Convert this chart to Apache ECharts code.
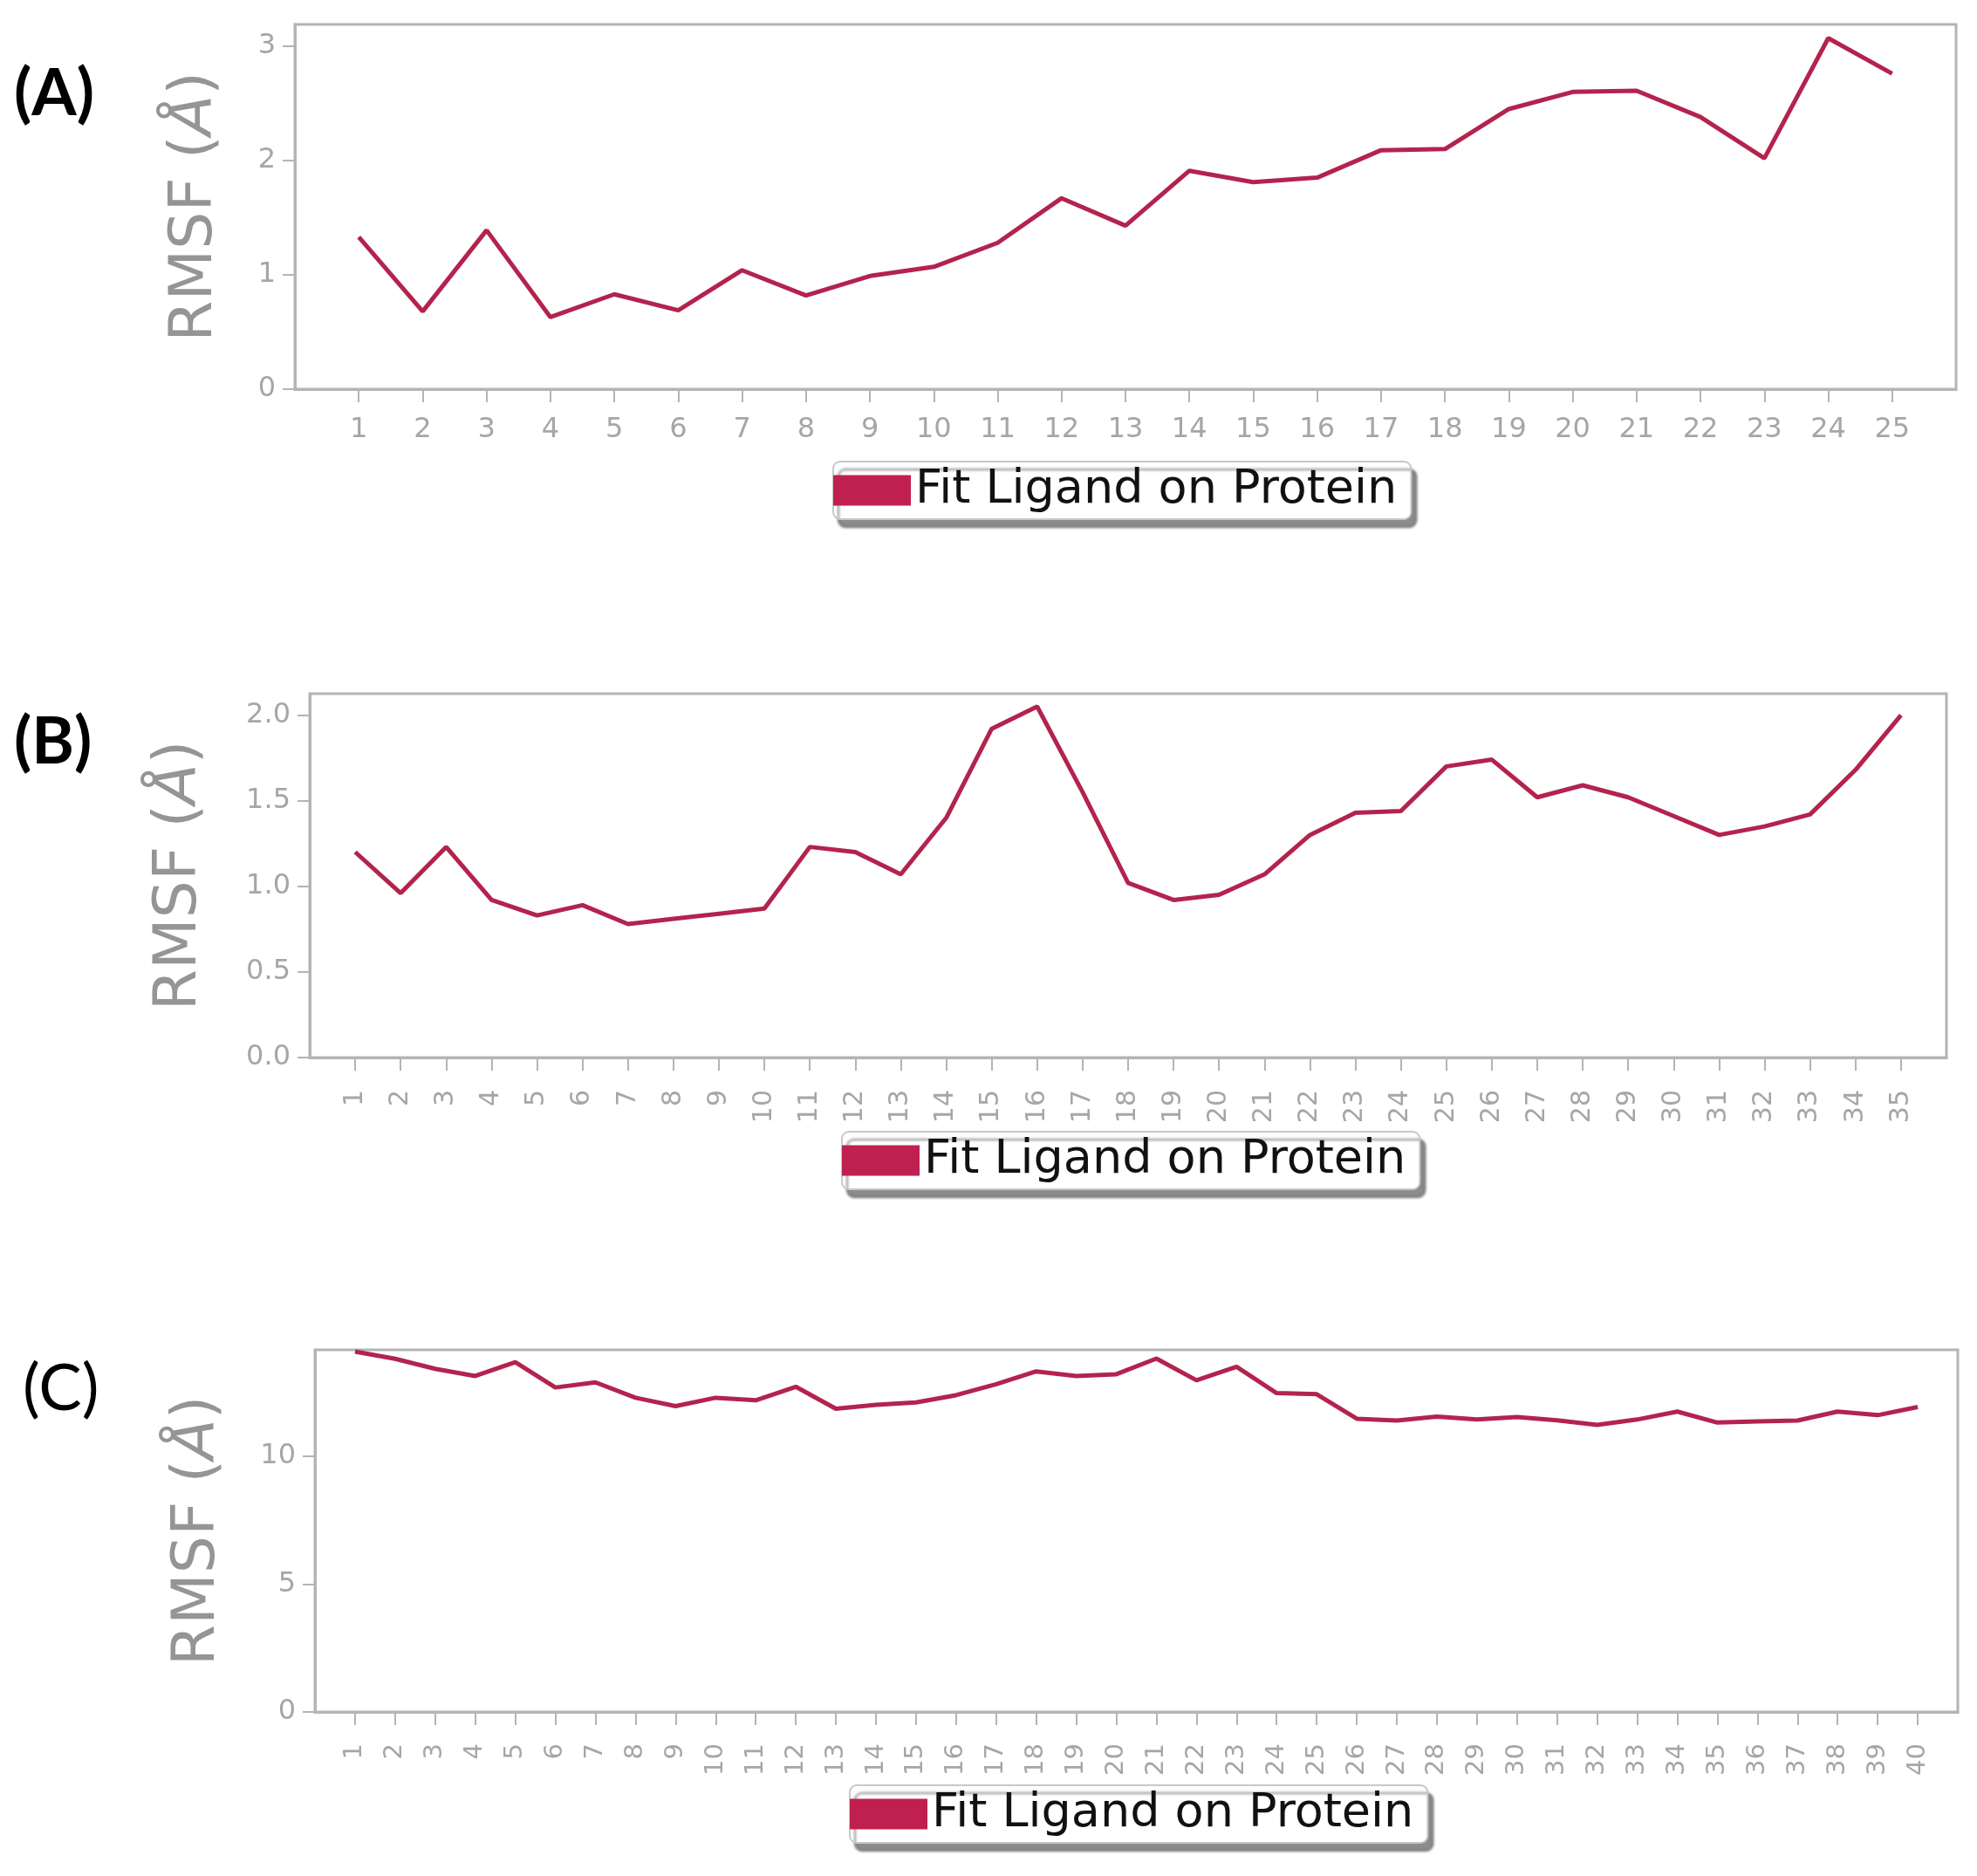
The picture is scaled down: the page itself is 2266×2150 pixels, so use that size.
<!DOCTYPE html>
<html><head><meta charset="utf-8">
<script src="https://cdn.jsdelivr.net/npm/echarts@6/dist/echarts.min.js"></script>
<style>html,body{margin:0;padding:0;background:#fff}#c{width:2266px;height:2150px}</style>
</head><body><div id="c"></div>
<script>
const seriesName = 'Fit Ligand on Protein';
const panelLabels = ['(A)', '(B)', '(C)'];

const residuesA = [1,2,3,4,5,6,7,8,9,10,11,12,13,14,15,16,17,18,19,20,21,22,23,24,25];
const rmsfA = [1.33,0.68,1.39,0.63,0.83,0.69,1.04,0.82,0.99,1.07,1.28,1.67,1.43,1.91,1.81,1.85,2.09,2.10,2.45,2.60,2.61,2.38,2.02,3.07,2.76];
const yTicksA = [0,1,2,3];

const residuesB = [1,2,3,4,5,6,7,8,9,10,11,12,13,14,15,16,17,18,19,20,21,22,23,24,25,26,27,28,29,30,31,32,33,34,35];
const rmsfB = [1.20,0.96,1.23,0.92,0.83,0.89,0.78,0.81,0.84,0.87,1.23,1.20,1.07,1.40,1.92,2.05,1.55,1.02,0.92,0.95,1.07,1.30,1.43,1.44,1.70,1.74,1.52,1.59,1.52,1.41,1.30,1.35,1.42,1.68,2.00];
const yTicksB = [0,0.5,1,1.5,2];

const residuesC = [1,2,3,4,5,6,7,8,9,10,11,12,13,14,15,16,17,18,19,20,21,22,23,24,25,26,27,28,29,30,31,32,33,34,35,36,37,38,39,40];
const rmsfC = [14.07,13.79,13.40,13.12,13.66,12.67,12.87,12.27,11.94,12.27,12.17,12.70,11.84,11.99,12.09,12.37,12.80,13.30,13.12,13.19,13.80,12.95,13.48,12.45,12.41,11.45,11.38,11.53,11.42,11.52,11.39,11.21,11.42,11.73,11.30,11.35,11.38,11.73,11.59,11.91];
const yTicksC = [0,5,10];

const spine = '#b4b4b4';
const tickColor = '#a6a6a6';
const labelColor = '#959595';
const lineColor = '#b3234e';
const patchColor = '#c0204f';
const tickFont = '"DejaVu Sans",sans-serif';
const mainFont = '"DejaVu Sans",sans-serif';

const grids = [
  {left: 338, top: 28, width: 1904, height: 418},
  {left: 355, top: 795, width: 1876, height: 417},
  {left: 361, top: 1547, width: 1883, height: 415}
];
const yMax = [3.19, 2.125, 14.14];
const nameGaps = [80, 115, 100];
const panels = [
  {cats: residuesA, vals: rmsfA, yTicks: yTicksA, rotate: 0, xFont: 32, xMargin: 31, yFmt: v => String(v)},
  {cats: residuesB, vals: rmsfB, yTicks: yTicksB, rotate: 90, xFont: 30, xMargin: 37, yFmt: v => v.toFixed(1)},
  {cats: residuesC, vals: rmsfC, yTicks: yTicksC, rotate: 90, xFont: 29, xMargin: 36, yFmt: v => String(v)}
];
const legendPos = [
  {left: 955, top: 529},
  {left: 965, top: 1297},
  {left: 974, top: 2046}
];
const labelPos = [
  {x: 16, y: 108},
  {x: 16, y: 851},
  {x: 26, y: 1592}
];

const chart = echarts.init(document.getElementById('c'), null, {renderer: 'canvas'});

const option = {
  animation: false,
  backgroundColor: '#fff',
  grid: grids.map(g => Object.assign({show: true, borderColor: spine, borderWidth: 3, backgroundColor: '#fff'}, g)),
  xAxis: panels.map((p, i) => ({
    type: 'value', gridIndex: i, min: 0, max: p.cats.length + 1, interval: 1,
    axisLine: {show: true, onZero: false, lineStyle: {color: spine, width: 3}},
    axisTick: {show: true, customValues: p.cats, length: 15, lineStyle: {color: spine, width: 2}},
    axisLabel: {customValues: p.cats, rotate: p.rotate, fontSize: p.xFont, color: tickColor, margin: p.xMargin, fontFamily: tickFont},
    splitLine: {show: false}
  })),
  yAxis: panels.map((p, i) => ({
    type: 'value', gridIndex: i, min: 0, max: yMax[i],
    name: 'RMSF ({i|Å})', nameLocation: 'middle', nameGap: nameGaps[i], nameRotate: 90,
    nameTextStyle: {fontSize: 68, color: labelColor, fontFamily: mainFont,
      rich: {i: {fontSize: 68, color: labelColor, fontStyle: 'italic', fontFamily: mainFont}}},
    axisLine: {show: true, onZero: false, lineStyle: {color: spine, width: 3}},
    axisTick: {show: true, customValues: p.yTicks, length: 14, lineStyle: {color: spine, width: 2}},
    axisLabel: {customValues: p.yTicks, formatter: p.yFmt, fontSize: 32, color: tickColor, margin: 22, fontFamily: tickFont},
    splitLine: {show: false}
  })),
  legend: legendPos.map(pos => ({
    left: pos.left, top: pos.top, data: [seriesName], icon: 'rect', itemWidth: 89, itemHeight: 35,
    padding: [6, 16, 6, 0], backgroundColor: '#fff', borderColor: '#c8c8c8', borderWidth: 2, borderRadius: 8,
    shadowColor: 'rgba(0,0,0,0.45)', shadowOffsetX: 6, shadowOffsetY: 9, shadowBlur: 3,
    selectedMode: false,
    textStyle: {fontSize: 54, color: '#111', fontFamily: mainFont}
  })),
  graphic: panelLabels.map((t, i) => ({
    type: 'text', x: labelPos[i].x, y: labelPos[i].y,
    style: {text: t, fontSize: 74, fontWeight: i < 2 ? 'bold' : 'normal', fontFamily: 'Lato, "Open Sans", sans-serif', fill: '#000', verticalAlign: 'middle'}
  })),
  series: panels.map((p, i) => ({
    type: 'line', name: seriesName, xAxisIndex: i, yAxisIndex: i,
    data: p.cats.map((c, k) => [c, p.vals[k]]),
    showSymbol: false, symbol: 'none',
    lineStyle: {color: lineColor, width: 5},
    itemStyle: {color: patchColor}
  }))
};
chart.setOption(option);
</script></body></html>
